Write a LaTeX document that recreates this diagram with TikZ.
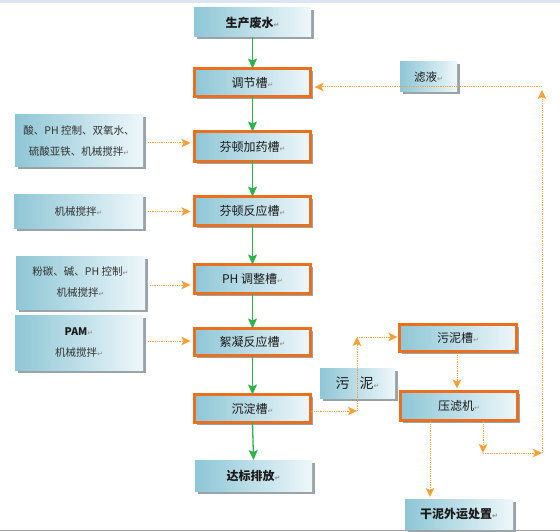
\documentclass[tikz,border=0pt]{standalone}
\usepackage{fontspec}
\setmainfont{Noto Sans CJK SC}
\newfontfamily\dejavu{DejaVu Sans}
\usetikzlibrary{arrows.meta,shadows}
\definecolor{boxL}{HTML}{8EC6D6}
\definecolor{boxR}{HTML}{EEF7FA}
\definecolor{shad}{HTML}{9AA4A8}
\definecolor{orgB}{HTML}{E8701E}
\definecolor{orgD}{HTML}{F6A03A}
\definecolor{grn}{HTML}{2DB34A}
\definecolor{txt}{HTML}{1A1A1A}
\definecolor{txtL}{HTML}{333333}
\definecolor{retc}{HTML}{8A8A8A}
\definecolor{topband}{HTML}{DCE6F2}
\definecolor{botline}{HTML}{A0A0A0}
\newcommand\rt{{\dejavu\fontsize{7}{7}\selectfont\color{retc}↵}}
\tikzset{
  box/.style={rectangle, inner sep=0pt, outer sep=0pt, left color=boxL, right color=boxR,
    drop shadow={shadow xshift=2.5pt, shadow yshift=-2.5pt, fill=shad, opacity=1},
    font=\fontsize{12}{14}\selectfont, text=txt, align=center},
  lbox/.style={box, font=\fontsize{10.5}{21}\selectfont, text=txtL},
  proc/.style={box, draw=orgB, line width=2.6pt},
  garr/.style={draw=grn, line width=1.3pt, -{Stealth[length=10pt,width=9pt,inset=2pt,fill=grn]}},
  oarr/.style={draw=orgD, line width=1pt, dash pattern=on 1pt off 0.8pt, -{Stealth[length=9pt,width=8.5pt,inset=2pt,fill=orgD]}},
  oline/.style={draw=orgD, line width=1pt, dash pattern=on 1pt off 0.8pt},
}
\begin{document}
\begin{tikzpicture}[x=1pt,y=-1pt]
\useasboundingbox (0,0) rectangle (560,532);
\fill[white] (0,0) rectangle (560,532);
\fill[topband] (0,0) rectangle (560,3.5);

% main column
\node[box, minimum width=117pt, minimum height=29pt, font=\bfseries\fontsize{12}{14}\selectfont] (src) at (252.5,22.5) {生产废水\rt};
\node[proc, minimum width=116pt, minimum height=28pt] (tj) at (252.5,82.5) {调节槽\rt};
\node[proc, minimum width=116pt, minimum height=30pt] (fj) at (252.5,146.5) {芬顿加药槽\rt};
\node[proc, minimum width=116pt, minimum height=29pt] (fr) at (252.5,211) {芬顿反应槽\rt};
\node[proc, minimum width=116pt, minimum height=29pt] (ph) at (252.5,279) {PH 调整槽\rt};
\node[proc, minimum width=116pt, minimum height=27pt] (xn) at (252.5,342) {絮凝反应槽\rt};
\node[proc, minimum width=116pt, minimum height=28pt] (cd) at (252.5,408.5) {沉淀槽\rt};
\node[box, minimum width=117pt, minimum height=31pt, font=\bfseries\fontsize{12}{14}\selectfont] (db) at (253.5,475.5) {达标排放\rt};

% left boxes
\node[lbox, minimum width=128pt, minimum height=52pt] (L1) at (79,141) {酸、PH 控制、双氧水、\\硫酸亚铁、机械搅拌\rt};
\node[lbox, minimum width=129pt, minimum height=33pt] (L2) at (78.5,211.5) {机械搅拌\rt};
\node[lbox, minimum width=129pt, minimum height=53pt] (L3) at (80.5,282.5) {粉碳、碱、PH 控制\rt\\机械搅拌\rt};
\node[lbox, minimum width=128pt, minimum height=55pt] (L4) at (79,342.5) {{\bfseries\color{txt}PAM}\rt\\机械搅拌\rt};

% right side
\node[box, minimum width=57pt, minimum height=30pt, font=\fontsize{11.5}{14}\selectfont] (lv) at (428.5,77) {滤液\rt};
\node[box, minimum width=75pt, minimum height=30pt, font=\fontsize{14}{16}\selectfont] (wnl) at (357.5,383) {污\hspace{10pt}泥\rt};
\node[proc, minimum width=117pt, minimum height=27pt] (wnc) at (458,338) {污泥槽\rt};
\node[proc, minimum width=117pt, minimum height=29pt] (ylj) at (459,406) {压滤机\rt};
\node[box, minimum width=108pt, minimum height=31pt, font=\bfseries\fontsize{12}{14}\selectfont] (gn) at (459,514.5) {干泥外运处置\rt};

% green arrows
\draw[garr] (src.south) -- (tj.north);
\draw[garr] (tj.south) -- (fj.north);
\draw[garr] (fj.south) -- (fr.north);
\draw[garr] (fr.south) -- (ph.north);
\draw[garr] (ph.south) -- (xn.north);
\draw[garr] (xn.south) -- (cd.north);
\draw[garr] (cd.south) -- (db.north);

% left orange arrows
\draw[oarr] ([xshift=5pt,yshift=-2pt]L1.east) -- ([xshift=-4pt,yshift=-2pt]L1.east -| fj.west);
\draw[oarr] ([xshift=5pt]L2.east) -- ([xshift=-4pt]L2.east -| fr.west);
\draw[oarr] ([xshift=5pt,yshift=-2.5pt]L3.east) -- ([xshift=-4pt,yshift=-2.5pt]L3.east -| ph.west);
\draw[oarr] ([xshift=5pt,yshift=1.5pt]L4.east) -- ([xshift=-4pt,yshift=1.5pt]L4.east -| xn.west);

% sludge path
\coordinate (k1) at (357,411);
\coordinate (k2) at (357,337);
\coordinate (k4) at (483,453);
\coordinate (k5) at (542,453);
\coordinate (k6) at (542,87);
\draw[oarr] (cd.east |- k1) -- (k1);
\draw[oarr] (k1) -- (k2);
\draw[oarr, shorten >=2pt] (k2) -- (k2 -| wnc.west);
\draw[oarr, shorten >=3pt] ([xshift=-1pt]wnc.south) -- ([xshift=-1pt]wnc.south |- ylj.north);
\draw[oarr, shorten >=2pt] ([xshift=-29pt]ylj.south) -- ([xshift=-29pt]ylj.south |- gn.north);
\draw[oarr] (ylj.south -| k4) -- (k4);
\draw[oarr] (k4) -- (k5);
\draw[oarr, shorten >=3pt] (k5) -- (k6);
\draw[oline] (k6) -- (lv.east |- k6);
\draw[oarr, shorten >=4pt] (lv.west |- k6) -- (k6 -| tj.east);
\draw[oline] (lv.west |- k6) -- (lv.east |- k6);

\draw[botline, line width=1pt] (0,530.5) -- (560,530.5);
\end{tikzpicture}
\end{document}
